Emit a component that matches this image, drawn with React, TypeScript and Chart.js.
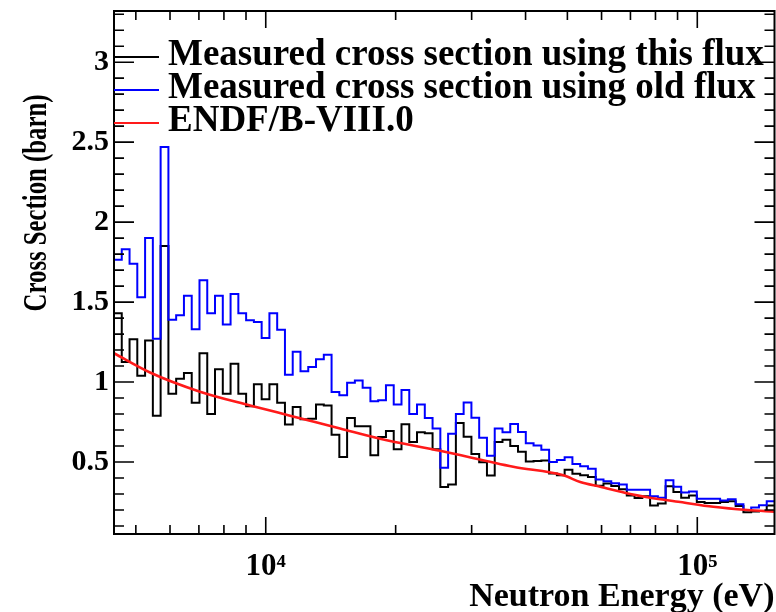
import React, { useEffect, useRef } from 'react';
import { Chart, registerables } from 'chart.js';

Chart.register(...registerables);

// Histogram bin edges (eV); 86 log-spaced bins, the first one lies just left of the shown range
const binEdges = [
  4269, 4450, 4638, 4835, 5039, 5253, 5475, 5707, 5949, 6200, 6463,
  6737, 7022, 7319, 7629, 7952, 8289, 8640, 9006, 9387, 9784,
  10198, 10629, 11079, 11548, 12037, 12546, 13077, 13631, 14208, 14809,
  15436, 16089, 16770, 17480, 18220, 18991, 19795, 20633, 21506, 22416,
  23365, 24354, 25385, 26459, 27579, 28746, 29963, 31231, 32553, 33931,
  35367, 36864, 38424, 40050, 41745, 43512, 45354, 47273, 49274, 51360,
  53534, 55800, 58161, 60623, 63189, 65863, 68651, 71557, 74585, 77742,
  81032, 84462, 88037, 91763, 95647, 99745, 103966, 108366, 112953, 117733,
  122716, 127910, 133323, 138966, 144848, 150978,
];

// Measured cross section using this flux (barn)
const thisFluxXS = [
  1.47,
  1.43, 1.125, 1.267, 1.04, 1.26, 0.79, 1.85, 0.927, 1.02, 1.056,
  0.87, 1.18, 0.8, 1.08, 0.927, 1.115, 0.927, 0.848, 0.986, 0.892,
  0.986, 0.871, 0.734, 0.844, 0.767, 0.77, 0.86, 0.854, 0.671, 0.531,
  0.775, 0.723, 0.723, 0.542, 0.656, 0.694, 0.58, 0.736, 0.625, 0.686,
  0.68, 0.58, 0.344, 0.36, 0.744, 0.658, 0.55, 0.498, 0.415, 0.625,
  0.64, 0.6, 0.565, 0.504, 0.507, 0.51, 0.428, 0.417, 0.452, 0.427,
  0.417, 0.406, 0.352, 0.365, 0.35, 0.33, 0.29, 0.275, 0.286, 0.228,
  0.24, 0.348, 0.312, 0.276, 0.29, 0.25, 0.244, 0.244, 0.25, 0.255,
  0.225, 0.186, 0.19, 0.194, 0.228,
];

// Measured cross section using old flux (barn)
const oldFluxXS = [
  2.02,
  1.765, 1.83, 1.74, 1.53, 1.9, 1.27, 2.47, 1.39, 1.417, 1.54,
  1.33, 1.636, 1.43, 1.54, 1.36, 1.55, 1.43, 1.386, 1.375, 1.275,
  1.43, 1.327, 1.046, 1.19, 1.067, 1.094, 1.142, 1.17, 0.9375, 0.917,
  0.996, 1.01, 0.965, 0.88, 0.886, 0.98, 0.86, 0.95, 0.8, 0.86,
  0.775, 0.71, 0.465, 0.677, 0.8, 0.872, 0.777, 0.652, 0.54, 0.71,
  0.686, 0.738, 0.6875, 0.617, 0.604, 0.577, 0.5, 0.512, 0.53, 0.487,
  0.473, 0.458, 0.39, 0.38, 0.367, 0.36, 0.327, 0.327, 0.327, 0.286,
  0.277, 0.386, 0.346, 0.31, 0.315, 0.27, 0.27, 0.27, 0.26, 0.268,
  0.236, 0.2, 0.215, 0.23, 0.254,
];

// ENDF/B-VIII.0 evaluated curve
const endfEnergy = [
  4450, 5392, 7041, 9196, 11383, 14870, 18408, 25360, 37450, 48910,
  53550, 59590, 69940, 76580, 91330, 108900, 130600, 151000,
];
const endfXS = [
  1.18, 1.06, 0.94, 0.854, 0.79, 0.71, 0.646, 0.57, 0.47, 0.417,
  0.375, 0.345, 0.3, 0.28, 0.25, 0.22, 0.2, 0.19,
];

const legendLabels = [
  'Measured cross section using this flux',
  'Measured cross section using old flux',
  'ENDF/B-VIII.0',
];

const xRange = [4450, 150978];
const yRange = [0.05, 3.32];
const xTickValues = [1e4, 1e5];
const xTickLabels = ['10\u2074', '10\u2075'];
const xMinorTicks = [5000, 6000, 7000, 8000, 9000, 20000, 30000, 40000, 50000, 60000, 70000, 80000, 90000];
const yTickValues = [0.5, 1, 1.5, 2, 2.5, 3];
const yTickLabels = ['0.5', '1', '1.5', '2', '2.5', '3'];
const xTitle = 'Neutron Energy (eV)';
const yTitle = 'Cross Section (barn)';

const FONT = '"Liberation Serif", "Times New Roman", serif';

function histPoints(vals: number[]) {
  const pts = vals.map((v, i) => ({ x: binEdges[i], y: v }));
  pts.push({ x: binEdges[vals.length], y: vals[vals.length - 1] });
  return pts;
}

const framePlugin = {
  id: 'rootFrame',
  afterDraw(chart: any) {
    const { ctx, chartArea: a, scales } = chart;
    const x = scales.x;
    const y = scales.y;
    ctx.save();
    ctx.strokeStyle = '#000';
    ctx.lineWidth = 1.6;
    for (let i = 1; i <= 33; i++) {
      const v = i / 10;
      const py = y.getPixelForValue(v);
      if (py < a.top || py > a.bottom) continue;
      const len = i % 5 === 0 ? 20 : 10;
      ctx.beginPath();
      ctx.moveTo(a.left, py);
      ctx.lineTo(a.left + len, py);
      ctx.moveTo(a.right, py);
      ctx.lineTo(a.right - len, py);
      ctx.stroke();
    }
    const drawX = (v: number, len: number) => {
      const px = x.getPixelForValue(v);
      ctx.beginPath();
      ctx.moveTo(px, a.bottom);
      ctx.lineTo(px, a.bottom - len);
      ctx.moveTo(px, a.top);
      ctx.lineTo(px, a.top + len);
      ctx.stroke();
    };
    xMinorTicks.forEach((v) => drawX(v, 9));
    xTickValues.forEach((v) => drawX(v, 17));
    ctx.lineWidth = 2;
    ctx.strokeRect(a.left, a.top, a.right - a.left, a.bottom - a.top);

    // y-axis title (bold serif, rotated, condensed along its length)
    ctx.save();
    ctx.translate(37, 203);
    ctx.rotate(-Math.PI / 2);
    ctx.scale(0.75, 1);
    ctx.font = `bold 33px ${FONT}`;
    ctx.fillStyle = '#000';
    ctx.textAlign = 'center';
    ctx.textBaseline = 'middle';
    ctx.fillText(yTitle, 0, 0);
    ctx.restore();
    ctx.restore();
  },
};

const legendPlugin = {
  id: 'rootLegend',
  afterDraw(chart: any) {
    const { ctx } = chart;
    ctx.save();
    ctx.font = `bold 37px ${FONT}`;
    ctx.textBaseline = 'alphabetic';
    ctx.textAlign = 'left';
    chart.data.datasets.forEach((ds: any, i: number) => {
      const yRow = 57 + i * 33;
      ctx.strokeStyle = ds.borderColor;
      ctx.lineWidth = 2;
      ctx.beginPath();
      ctx.moveTo(114, yRow);
      ctx.lineTo(159, yRow);
      ctx.stroke();
      ctx.fillStyle = '#000';
      ctx.fillText(ds.label, 168, yRow + 8);
    });
    ctx.restore();
  },
};

export default function App() {
  const ref = useRef<HTMLCanvasElement>(null);

  useEffect(() => {
    const chart = new Chart(ref.current as HTMLCanvasElement, {
      type: 'line',
      data: {
        datasets: [
          {
            label: legendLabels[0],
            data: histPoints(thisFluxXS),
            borderColor: '#000000',
            borderWidth: 2,
            stepped: 'before',
            pointRadius: 0,
            fill: false,
            order: 2,
          },
          {
            label: legendLabels[1],
            data: histPoints(oldFluxXS),
            borderColor: '#0000ff',
            borderWidth: 2,
            stepped: 'before',
            pointRadius: 0,
            fill: false,
            order: 1,
          },
          {
            label: legendLabels[2],
            data: endfEnergy.map((e, i) => ({ x: e, y: endfXS[i] })),
            borderColor: '#ff1a1a',
            borderWidth: 2.6,
            cubicInterpolationMode: 'monotone',
            pointRadius: 0,
            fill: false,
            order: 0,
          },
        ] as any,
      },
      options: {
        animation: false,
        responsive: false,
        layout: { padding: { top: 11, right: 1.5, left: 0, bottom: 0 } },
        plugins: { legend: { display: false }, tooltip: { enabled: false } },
        scales: {
          x: {
            type: 'logarithmic',
            min: xRange[0],
            max: xRange[1],
            afterFit: (s: any) => {
              s.height = 78;
              s.paddingLeft = 0;
              s.paddingRight = 0;
            },
            afterBuildTicks: (s: any) => {
              s.ticks = xTickValues.map((v) => ({ value: v }));
            },
            ticks: {
              callback: (_v: any, i: number) => xTickLabels[i],
              autoSkip: false,
              maxRotation: 0,
              padding: 17,
              color: '#000',
              font: { family: FONT, size: 31, weight: 'bold', lineHeight: 1 },
            },
            grid: { display: false, drawTicks: false },
            border: { display: false },
            title: {
              display: true,
              text: xTitle,
              align: 'end',
              color: '#000',
              font: { family: FONT, size: 34, weight: 'bold', lineHeight: 1 },
              padding: { top: 0, bottom: -2 },
            },
          },
          y: {
            type: 'linear',
            min: yRange[0],
            max: yRange[1],
            afterFit: (s: any) => {
              s.width = 114;
              s.paddingTop = 0;
              s.paddingBottom = 0;
            },
            afterBuildTicks: (s: any) => {
              s.ticks = yTickValues.map((v) => ({ value: v }));
            },
            ticks: {
              callback: (_v: any, i: number) => yTickLabels[i],
              autoSkip: false,
              padding: 5,
              color: '#000',
              font: { family: FONT, size: 30, weight: 'bold', lineHeight: 1 },
            },
            grid: { display: false, drawTicks: false },
            border: { display: false },
          },
        },
      } as any,
      plugins: [framePlugin, legendPlugin],
    });
    return () => chart.destroy();
  }, []);

  return (
    <div style={{ position: 'absolute', left: 0, top: 0, width: 776, height: 612, background: '#fff' }}>
      <canvas ref={ref} width={776} height={612} style={{ display: 'block' }} />
    </div>
  );
}
